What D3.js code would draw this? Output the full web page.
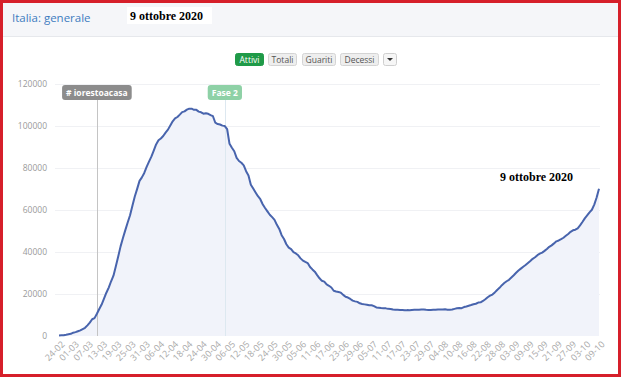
<!DOCTYPE html>
<html>
<head>
<meta charset="utf-8">
<script src="https://cdn.jsdelivr.net/npm/d3@7"></script>
<style>
    html, body { margin: 0; padding: 0; background: #fff; }
    svg { display: block; font-family: "Open Sans", "Liberation Sans", sans-serif; }
    .serif { font-family: "Liberation Serif", "Times New Roman", serif; font-weight: bold; }
</style>
</head>
<body>
<div id="chart"></div>
<script>
// daily "attualmente positivi", Italia, from 24-02 to 09-10 (2020)
let startDay = '24-02';
let endDay = '09-10';

let feb = [221, 311, 385, 588, 821, 1049];
let mar = [1577, 1835, 2263, 2706, 3296, 3916, 5061, 6387, 7985, 8514, 10590, 12839, 14955, 17750, 20603, 23073,
    26062, 28710, 33190, 37860, 42681, 46638, 50418, 54030, 57521, 62013, 66414, 70065, 73880, 75528, 77635];
let apr = [80572, 83049, 85388, 88274, 91246, 93187, 94067, 95262, 96877, 98273, 100269, 102253, 103616, 104291,
    105418, 106607, 106962, 107771, 108257, 108237, 107709, 107699, 106848, 106527, 105847, 106103, 105813,
    105205, 104657, 101551];
let may = [100943, 100704, 100179, 99980, 98467, 91528, 89624, 87961, 84842, 83324, 82488, 81266, 78457, 76440,
    72070, 70187, 68351, 66553, 65129, 62752, 60960, 59322, 57752, 56594, 55300, 52942, 50966, 47986, 46175,
    43691, 42075];
let jun = [41367, 39893, 39297, 38429, 36976, 35877, 35262, 34730, 32872, 31710, 30637, 28997, 27485, 26274,
    25909, 24569, 23925, 23101, 21543, 21212, 20972, 20637, 19573, 18655, 18303, 17638, 16836, 16496, 16248, 15563];
let jul = [15255, 15060, 14884, 14621, 14642, 14242, 13595, 13459, 13303, 13179, 13157, 12919, 12890, 12581,
    12493, 12456, 12404, 12368, 12248, 12322, 12301, 12404, 12456, 12442, 12474, 12565, 12581, 12456, 12404,
    12422, 12482];
let aug = [12482, 12616, 12646, 12616, 12694, 12456, 12482, 12609, 12924, 13179, 13368, 13263, 13791, 14081,
    14406, 14733, 15089, 15360, 15903, 16014, 16678, 17503, 18438, 19195, 19714, 20753, 21932, 22945, 24205,
    25205, 26078];
let sep = [26754, 27817, 28915, 30099, 31194, 32078, 32993, 33789, 34734, 35708, 36767, 37503, 38509, 39187,
    39712, 40532, 41413, 42457, 43161, 44098, 45079, 45489, 46114, 46780, 47718, 48593, 49618, 50323, 50630, 51263];
let oct = [52647, 54277, 56000, 57429, 58903, 60134, 62576, 65952, 70110];

let attivi = [].concat(feb, mar, apr, may, jun, jul, aug, sep, oct);

let tickLabels = ['24-02', '01-03', '07-03', '13-03', '19-03', '25-03', '31-03', '06-04', '12-04', '18-04',
    '24-04', '30-04', '06-05', '12-05', '18-05', '24-05', '30-05', '05-06', '11-06', '17-06', '23-06', '29-06',
    '05-07', '11-07', '17-07', '23-07', '29-07', '04-08', '10-08', '16-08', '22-08', '28-08', '03-09', '09-09',
    '15-09', '21-09', '27-09', '03-10', '09-10'];
let yTicks = [0, 20000, 40000, 60000, 80000, 100000, 120000];

let eventLabels = ['# iorestoacasa', 'Fase 2'];
let eventDays = ['11-03', '04-05'];
let eventColors = ['#8c8c8c', '#8ed1a6'];

let buttons = ['Attivi', 'Totali', 'Guariti', 'Decessi'];

let width = 630, height = 381;
let plot = {left: 59, right: 599, top: 84, bottom: 336};

let parseDay = d3.timeParse('%d-%m-%Y');
let day = s => parseDay(s + '-2020');

let days = d3.timeDay.range(day(startDay), d3.timeDay.offset(day(endDay), 1));
let series = days.map((d, i) => ({date: d, value: attivi[i]}));

let svg = d3.select('#chart').append('svg')
    .attr('width', width)
    .attr('height', height);

// header band
svg.append('rect')
    .attr('x', 3).attr('y', 3)
    .attr('width', 616).attr('height', 33)
    .attr('fill', '#f5f6f9');
svg.append('line')
    .attr('x1', 3).attr('x2', 619)
    .attr('y1', 36.5).attr('y2', 36.5)
    .attr('stroke', '#e6e8ec');

svg.append('text')
    .attr('x', 12).attr('y', 22)
    .attr('font-size', 11.5)
    .attr('fill', '#3d7cc0')
    .text('Italia: generale');

svg.append('rect')
    .attr('x', 127).attr('y', 7)
    .attr('width', 85).attr('height', 17)
    .attr('fill', '#fff');
svg.append('text')
    .attr('class', 'serif')
    .attr('x', 130).attr('y', 19.5)
    .attr('font-size', 12)
    .attr('fill', '#000')
    .text('9 ottobre 2020');

// buttons
let btnX = [235, 268, 302, 340];
let btnW = [28, 28, 33, 38];
let btn = svg.append('g');
buttons.forEach(function(b, i) {
    btn.append('rect')
        .attr('x', btnX[i] + 0.5).attr('y', 53.5)
        .attr('width', btnW[i]).attr('height', 12)
        .attr('rx', 2)
        .attr('fill', i == 0 ? '#1f9a48' : '#eeeeee')
        .attr('stroke', i == 0 ? '#1f9a48' : '#d4d4d4');
    btn.append('text')
        .attr('x', btnX[i] + btnW[i] / 2 + 0.5).attr('y', 62.5)
        .attr('text-anchor', 'middle')
        .attr('font-size', 8.5)
        .attr('fill', i == 0 ? '#fff' : '#555')
        .text(b);
});
btn.append('rect')
    .attr('x', 383.5).attr('y', 53.5)
    .attr('width', 13).attr('height', 12)
    .attr('rx', 2)
    .attr('fill', '#f6f6f6')
    .attr('stroke', '#cfcfcf');
btn.append('path')
    .attr('d', 'M387,58 L393,58 L390,61 Z')
    .attr('fill', '#333');

// scales
let x = d3.scaleTime()
    .domain([day(startDay), day(endDay)])
    .range([plot.left, plot.right]);
let y = d3.scaleLinear()
    .domain([0, 120000])
    .range([plot.bottom, plot.top]);

// grid
svg.append('g')
    .selectAll('line')
    .data(yTicks.slice(1))
    .join('line')
    .attr('x1', 55).attr('x2', 600)
    .attr('y1', d => Math.round(y(d)) + 0.5)
    .attr('y2', d => Math.round(y(d)) + 0.5)
    .attr('stroke', '#f0f1f4');

// y axis labels
let yAxis = svg.append('g')
    .attr('transform', `translate(47,0)`)
    .call(d3.axisLeft(y).tickValues(yTicks).tickSize(0).tickPadding(0).tickFormat(d3.format('d')));
yAxis.select('.domain').remove();
yAxis.attr('font-family', null);
yAxis.selectAll('text')
    .attr('font-size', 8.5)
    .attr('fill', '#9a9a9a');

// x axis labels
let xAxis = svg.append('g')
    .attr('transform', `translate(0,${plot.bottom + 5})`)
    .call(d3.axisBottom(x).tickValues(tickLabels.map(day)).tickSize(0).tickFormat(d3.timeFormat('%d-%m')));
xAxis.select('.domain').remove();
xAxis.attr('font-family', null);
xAxis.selectAll('text')
    .attr('font-size', 9)
    .attr('fill', '#a8a8a8')
    .attr('text-anchor', 'end')
    .attr('dy', '0.6em')
    .attr('transform', 'translate(2,0) rotate(-45)')
    .attr('y', 0).attr('x', 0);

// area + line
let area = d3.area()
    .x(d => x(d.date))
    .y0(plot.bottom)
    .y1(d => y(d.value));
let line = d3.line()
    .x(d => x(d.date))
    .y(d => y(d.value));

svg.append('path')
    .datum(series)
    .attr('d', area)
    .attr('fill', '#f1f3fa');

// event lines
eventDays.forEach(function(e, i) {
    let ex = Math.round(x(day(e))) + 0.5;
    svg.append('line')
        .attr('x1', ex).attr('x2', ex)
        .attr('y1', 99).attr('y2', plot.bottom)
        .attr('stroke', i == 0 ? '#c4c4c4' : '#dde8f0')
        .attr('stroke-width', 1);
});

svg.append('path')
    .datum(series)
    .attr('d', line)
    .attr('fill', 'none')
    .attr('stroke', '#4864ad')
    .attr('stroke-width', 2)
    .attr('stroke-linejoin', 'round');

// event labels
eventDays.forEach(function(e, i) {
    let ex = x(day(e));
    let t = svg.append('text')
        .attr('x', ex).attr('y', 95.5)
        .attr('text-anchor', 'middle')
        .attr('font-size', 8.5)
        .attr('font-weight', 'bold')
        .attr('fill', '#fff')
        .text(eventLabels[i]);
    let bb = t.node().getBBox();
    svg.insert('rect', () => t.node())
        .attr('x', bb.x - 4).attr('y', 85)
        .attr('width', bb.width + 8).attr('height', 15)
        .attr('rx', 3)
        .attr('fill', eventColors[i]);
});

// annotation
svg.append('text')
    .attr('class', 'serif')
    .attr('x', 500).attr('y', 181)
    .attr('font-size', 12)
    .attr('fill', '#000')
    .text('9 ottobre 2020');

// red frame
svg.append('rect')
    .attr('x', 1.5).attr('y', 1.5)
    .attr('width', 618).attr('height', 374)
    .attr('fill', 'none')
    .attr('stroke', '#d61f2a')
    .attr('stroke-width', 3);
</script>
</body>
</html>
